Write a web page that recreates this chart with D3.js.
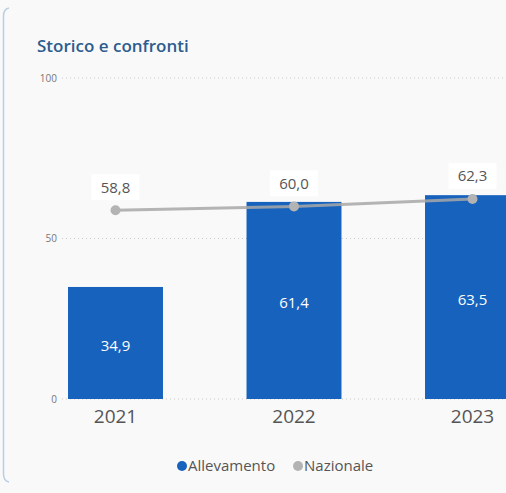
<!DOCTYPE html>
<html><head><meta charset="utf-8">
<script src="https://cdn.jsdelivr.net/npm/d3@7"></script>
<style>
html,body{margin:0;padding:0;background:#f9f9f9;}
svg{display:block;}
</style></head>
<body>
<svg id="c" width="506" height="493"></svg>
<script>
const years = ["2021","2022","2023"];
const allevamento = [34.9, 61.4, 63.5];
const nazionale = [58.8, 60.0, 62.3];
const yTicks = [0, 50, 100];
const seriesNames = ["Allevamento","Nazionale"];
const fmt = v => v.toFixed(1).replace(".", ",");

const svg = d3.select("#c");
const font = "'Open Sans', 'Noto Sans', sans-serif";
const blue = "#1662bd", grey = "#b3b3b3";

svg.append("rect").attr("width",506).attr("height",493).attr("fill","#f9f9f9");
// card left edge
svg.append("path").attr("d","M9,8 Q3.5,9 3.5,16 L3.5,474 Q3.5,481 9,482")
  .attr("fill","none").attr("stroke","#b9cfe4").attr("stroke-width",1.5);

svg.append("text").attr("x",37).attr("y",52).text("Storico e confronti")
  .attr("font-family",font).attr("font-size",17).attr("font-weight",600).attr("fill","#2d5c8e");

const y = d3.scaleLinear().domain([0,100]).range([399,78]);
const x = d3.scaleBand().domain(years).range([26.25, 561.75]).paddingInner(0.468).paddingOuter(0.234);

// grid
const grid = svg.append("g");
yTicks.forEach(t=>{
  grid.append("line").attr("x1",62).attr("x2",506).attr("y1",y(t)).attr("y2",y(t))
    .attr("stroke","#c8c8c8").attr("stroke-width",1).attr("stroke-dasharray","1,3");
});
const yAxis = d3.axisLeft(y).tickValues(yTicks).tickSize(0).tickPadding(0);
const ya = svg.append("g").attr("transform","translate(57,0)").call(yAxis);
ya.select(".domain").remove();
ya.selectAll("text").attr("font-family",font).attr("font-size",10).attr("fill","#777");

// bars
svg.append("g").selectAll("rect").data(years).join("rect")
  .attr("x",d=>x(d)).attr("width",x.bandwidth())
  .attr("y",(d,i)=>y(allevamento[i])).attr("height",(d,i)=>y(0)-y(allevamento[i]))
  .attr("fill",blue);
svg.append("g").selectAll("text").data(years).join("text")
  .attr("x",d=>x(d)+x.bandwidth()/2)
  .attr("y",(d,i)=>(y(allevamento[i])+y(0))/2+8)
  .attr("text-anchor","middle").attr("font-family",font).attr("font-size",15)
  .attr("fill","#ffffff").text((d,i)=>fmt(allevamento[i]));

// line
const cx = d=>x(d)+x.bandwidth()/2;
const line = d3.line().x((d,i)=>cx(years[i])).y(d=>y(d));
svg.append("path").datum(nazionale).attr("d",line).attr("fill","none")
  .attr("stroke","#a8a8a8").attr("stroke-width",3).attr("stroke-opacity",0.85);
svg.append("g").selectAll("circle").data(nazionale).join("circle")
  .attr("cx",(d,i)=>cx(years[i])).attr("cy",d=>y(d)).attr("r",5).attr("fill",grey);
const lbl = svg.append("g").selectAll("g").data(nazionale).join("g")
  .attr("transform",(d,i)=>`translate(${cx(years[i])},${y(d)-23})`);
lbl.append("rect").attr("x",-24).attr("y",-13).attr("width",48).attr("height",26).attr("fill","#ffffff");
lbl.append("text").attr("text-anchor","middle").attr("dy","0.35em")
  .attr("font-family",font).attr("font-size",15).attr("fill","#555").text(d=>fmt(d));

// x axis
const xAxis = d3.axisBottom(x).tickSize(0).tickPadding(0);
const xa = svg.append("g").attr("transform","translate(0,409)").call(xAxis);
xa.select(".domain").remove();
xa.selectAll("text").attr("font-family",font).attr("font-size",19).attr("fill","#555").attr("dy","0.71em");

// legend
const leg = svg.append("g");
const legItems = [{n:seriesNames[0],c:blue,x:182},{n:seriesNames[1],c:grey,x:298}];
legItems.forEach(it=>{
  leg.append("circle").attr("cx",it.x).attr("cy",466).attr("r",5).attr("fill",it.c);
  leg.append("text").attr("x",it.x+6).attr("y",466).attr("dy","0.35em")
    .attr("font-family",font).attr("font-size",15).attr("fill","#555").text(it.n);
});
</script>
</body></html>
